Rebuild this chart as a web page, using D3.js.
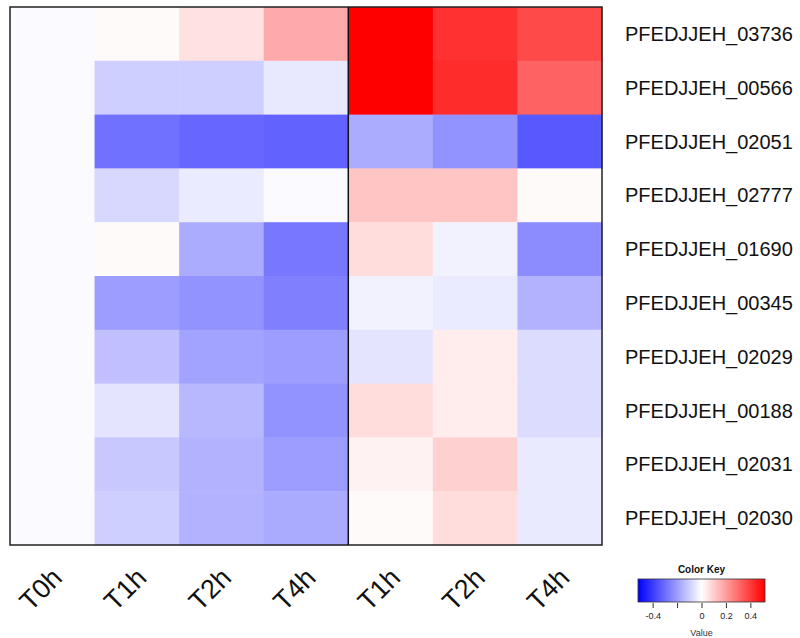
<!DOCTYPE html>
<html><head><meta charset="utf-8">
<script src="https://cdn.jsdelivr.net/npm/d3@7"></script>
<style>body{margin:0;background:#fff;} text{font-family:"Liberation Sans",Arial,sans-serif;}</style>
</head><body>
<svg id="chart" width="800" height="638"></svg>
<script>
const genes = ["PFEDJJEH_03736","PFEDJJEH_00566","PFEDJJEH_02051","PFEDJJEH_02777","PFEDJJEH_01690","PFEDJJEH_00345","PFEDJJEH_02029","PFEDJJEH_00188","PFEDJJEH_02031","PFEDJJEH_02030"];
const colLabels = ["T0h","T1h","T2h","T4h","T1h","T2h","T4h"];
// values per column (top to bottom gene order)
const colT0h   = [-0.01,-0.01,-0.01,-0.01,-0.01,-0.01,-0.01,-0.01,-0.01,-0.01];
const colT1hA  = [0.01,-0.10,-0.29,-0.08,0.01,-0.20,-0.128,-0.055,-0.112,-0.10];
const colT2hA  = [0.061,-0.10,-0.31,-0.04,-0.17,-0.22,-0.19,-0.145,-0.157,-0.157];
const colT4hA  = [0.173,-0.047,-0.32,-0.01,-0.275,-0.26,-0.20,-0.22,-0.20,-0.173];
const colT1hB  = [0.52,0.52,-0.17,0.12,0.07,-0.027,-0.055,0.07,0.027,0.01];
const colT2hB  = [0.42,0.43,-0.22,0.12,-0.027,-0.04,0.039,0.039,0.096,0.07];
const colT4hB  = [0.37,0.32,-0.34,0.01,-0.235,-0.157,-0.071,-0.071,-0.043,-0.043];
const keyTicks = [-0.4,-0.2,0,0.2,0.4];
const keyRange = [-0.52,0.52];

const columns = [colT0h,colT1hA,colT2hA,colT4hA,colT1hB,colT2hB,colT4hB];
const cells = [];
columns.forEach((col,ci)=>col.forEach((v,ri)=>cells.push({ci,ri,v})));

const svg = d3.select("#chart");
const x = d3.scaleBand().domain(d3.range(colLabels.length)).range([10,602]);
const y = d3.scaleBand().domain(genes).range([7,545]);
const color = d3.scaleLinear().domain([keyRange[0],0,keyRange[1]]).range(["#0000ff","#ffffff","#ff0000"]).clamp(true);

svg.append("g").selectAll("rect").data(cells).join("rect")
  .attr("x",d=>x(d.ci)).attr("y",d=>y(genes[d.ri]))
  .attr("width",x.bandwidth()+0.5).attr("height",y.bandwidth()+0.5)
  .attr("fill",d=>color(d.v));

// borders
svg.append("rect").attr("x",10).attr("y",7).attr("width",592).attr("height",538)
  .attr("fill","none").attr("stroke","#222").attr("stroke-width",1.5);
svg.append("line").attr("x1",x(4)).attr("x2",x(4)).attr("y1",7).attr("y2",545)
  .attr("stroke","#111").attr("stroke-width",1.5);

// row labels
svg.append("g").selectAll("text").data(genes).join("text")
  .attr("x",625).attr("y",d=>y(d)+y.bandwidth()/2+7)
  .attr("font-size",20).attr("fill","#111").text(d=>d);

// column labels
svg.append("g").selectAll("text").data(colLabels).join("text")
  .attr("transform",(d,i)=>`translate(${x(i)+x.bandwidth()/2-2},${566}) rotate(-45)`)
  .attr("text-anchor","end").attr("dy","0.7em")
  .attr("font-size",27).attr("fill","#111").text(d=>d);

// color key
const kx = d3.scaleLinear().domain(keyRange).range([638,765]);
const defs = svg.append("defs");
const grad = defs.append("linearGradient").attr("id","kg");
d3.range(0,1.0001,0.05).forEach(t=>{
  grad.append("stop").attr("offset",t).attr("stop-color",color(keyRange[0]+t*(keyRange[1]-keyRange[0])));
});
svg.append("rect").attr("x",638).attr("y",579).attr("width",127).attr("height",23)
  .attr("fill","url(#kg)").attr("stroke","#333").attr("stroke-width",0.8);
svg.append("text").attr("x",701.5).attr("y",573).attr("text-anchor","middle")
  .attr("font-size",10).attr("font-weight","bold").attr("fill","#111").text("Color Key");
const ax = d3.axisBottom(kx).tickValues(keyTicks).tickSize(5).tickPadding(5)
  .tickFormat(d=> d===-0.2 ? "" : (d===0 ? "0" : String(d)));
const ag = svg.append("g").attr("transform","translate(0,603)").call(ax);
ag.select(".domain").remove();
ag.selectAll("text").attr("font-size",9).attr("fill","#222").style("font-family","Liberation Sans, Arial, sans-serif");
ag.selectAll("line").attr("stroke","#333");
svg.append("text").attr("x",701.5).attr("y",636).attr("text-anchor","middle")
  .attr("font-size",9).attr("fill","#333").text("Value");
</script>
</body></html>
